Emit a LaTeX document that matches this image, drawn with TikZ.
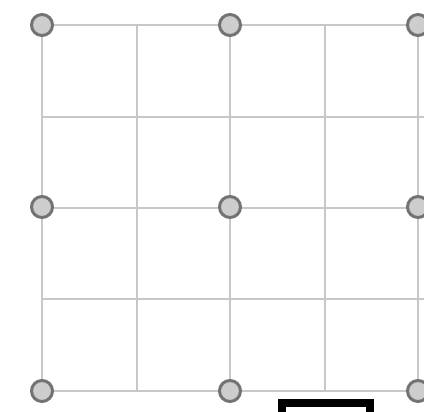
\documentclass[tikz,border=0pt]{standalone}
\begin{document}
\begin{tikzpicture}[x=1pt,y=1pt,
  gridline/.style={draw={rgb,255:red,200;green,200;blue,200},line width=2.6pt},
  dot/.style={circle,draw={rgb,255:red,115;green,115;blue,115},fill={rgb,255:red,205;green,205;blue,205},line width=3pt,minimum size=21pt,inner sep=0pt},
  blackbox/.style={draw=black,line width=7.5pt}]
\useasboundingbox (0,0) rectangle (424,412);
\clip (0,0) rectangle (424,412);
% grid coordinates (y flipped from image)
\foreach \x/\n in {42/a,137/b,230/c,325/d,418/e}{
  \coordinate (T\n) at (\x,387);
  \coordinate (B\n) at (\x,21);
}
\foreach \y/\n in {387/a,295/b,204/c,113/d,21/e}{
  \coordinate (L\n) at (42,\y);
  \coordinate (R\n) at (430,\y);
}
\foreach \n in {a,b,c,d,e}{
  \draw[gridline] (T\n) -- (B\n);
  \draw[gridline] (L\n) -- (R\n);
}
% dots
\node[dot] (n11) at (42,387) {};
\node[dot] (n12) at (230,387) {};
\node[dot] (n13) at (418,387) {};
\node[dot] (n21) at (42,205) {};
\node[dot] (n22) at (230,205) {};
\node[dot] (n23) at (418,205) {};
\node[dot] (n31) at (42,21) {};
\node[dot] (n32) at (230,21) {};
\node[dot] (n33) at (418,21) {};
% black box at bottom
\draw[blackbox] (282,-10) rectangle (370,9);
\end{tikzpicture}
\end{document}
